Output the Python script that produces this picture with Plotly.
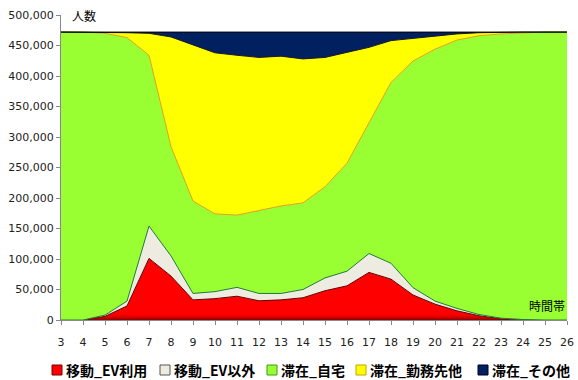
import plotly.graph_objects as go

hours = list(range(3, 27))
ev_move = [0, 0, 6000, 23000, 101000, 72000, 33000, 35000, 39000, 31500, 33000, 36500,
           48000, 56000, 78000, 67000, 41000, 26000, 15000, 7000, 2000, 500, 0, 0]
other_move = [0, 0, 2000, 8000, 53000, 33000, 10500, 11500, 14500, 12000, 10500, 13500,
              21000, 24000, 31000, 26000, 12000, 5000, 4000, 2000, 1000, 300, 0, 0]
stay_home = [472000, 472000, 462000, 432000, 280000, 179000, 151500, 127500, 118500, 135500,
             143500, 142000, 149500, 177000, 213000, 296500, 371500, 413000, 440000, 457000,
             466000, 470200, 472000, 472000]
stay_work = [0, 0, 1500, 8000, 36000, 180000, 256000, 264000, 262000, 251500, 245500, 236000,
             212000, 181500, 125000, 68500, 37500, 21500, 10000, 5000, 3000, 1000, 0, 0]
stay_other = [0, 0, 500, 1000, 2000, 8000, 21000, 34000, 38000, 41500, 39500, 44000,
              41500, 33500, 25000, 14000, 10000, 6500, 3000, 1000, 0, 0, 0, 0]

names = ["移動_EV利用", "移動_EV以外", "滞在_自宅", "滞在_勤務先他", "滞在_その他"]
series = [ev_move, other_move, stay_home, stay_work, stay_other]
fills = ["#FF0000", "#EEECE1", "#99FF33", "#FFFF00", "#002060"]
lines = ["#600000", "#1E7B3A", "#E0A020", "#1A1A1A", "#000000"]
swatch_edges = ["#7A0000", "#555555", "#3C9A1E", "#C8A000", "#000020"]
y_ticks = list(range(0, 500001, 50000))

W, H = 578, 380
ML, MR, MT, MB = 61, 11, 15, 60
PW, PH = W - ML - MR, H - MT - MB


def px_x(p):
    return (p - ML) / PW


def px_y(p):
    return (H - MB - p) / PH


fig = go.Figure()
for i, (nm, vals, fc, lc) in enumerate(zip(names, series, fills, lines)):
    kw = {}
    if i == 0:
        kw["fillgradient"] = dict(
            type="vertical", start=0, stop=max(vals),
            colorscale=[[0, "#8C0000"], [0.05, "#E00000"], [0.1, "#FF0000"], [1, "#FF0000"]],
        )
    else:
        kw["fillcolor"] = fc
    fig.add_trace(go.Scatter(
        x=hours, y=vals, name=nm, mode="lines", stackgroup="one",
        line=dict(color=lc, width=1), showlegend=False,
        hoverinfo="x+y+name", **kw,
    ))

# legend drawn as swatches + labels below the plot
legend_sw_x = [52, 160, 267, 356, 478]
legend_y = 370
shapes = []
annotations = []
for nm, fc, ec, sx in zip(names, fills, swatch_edges, legend_sw_x):
    shapes.append(dict(
        type="rect", xref="paper", yref="paper",
        x0=px_x(sx), x1=px_x(sx + 10), y0=px_y(legend_y + 5), y1=px_y(legend_y - 5),
        fillcolor=fc, line=dict(color=ec, width=1),
    ))
    annotations.append(dict(
        text=nm, xref="paper", yref="paper", x=px_x(sx + 12), y=px_y(legend_y),
        xanchor="left", yanchor="middle", showarrow=False,
        font=dict(family="Noto Sans CJK JP", size=14, color="#000000", weight="bold"),
    ))

annotations += [
    dict(text="人数", xref="paper", yref="paper", x=px_x(70), y=1.0, xanchor="left",
         yanchor="middle", showarrow=False,
         font=dict(family="Noto Sans CJK JP", size=12, color="#000000")),
    dict(text="時間帯", xref="paper", yref="paper", x=1.0, y=px_y(305), xanchor="right",
         yanchor="middle", showarrow=False,
         font=dict(family="Noto Sans CJK JP", size=12, color="#000000")),
]

fig.update_layout(
    width=W, height=H,
    margin=dict(l=ML, r=MR, t=MT, b=MB, autoexpand=False),
    paper_bgcolor="white", plot_bgcolor="white",
    font=dict(family="DejaVu Sans", size=11, color="#222222"),
    showlegend=False,
    xaxis=dict(
        range=[3, 26], tickmode="array", tickvals=hours, ticktext=[str(h) for h in hours],
        showgrid=False, zeroline=False, showline=True, linecolor="#888888", linewidth=1,
        ticks="outside", ticklen=4, tickcolor="#888888", ticklabelstandoff=8,
    ),
    yaxis=dict(
        range=[0, 500000], tickvals=y_ticks, tickformat=",",
        showgrid=False, zeroline=False, showline=True, linecolor="#888888", linewidth=1,
        ticks="outside", ticklen=4, tickcolor="#888888",
    ),
    shapes=shapes,
    annotations=annotations,
)

fig.write_html("out.html")
